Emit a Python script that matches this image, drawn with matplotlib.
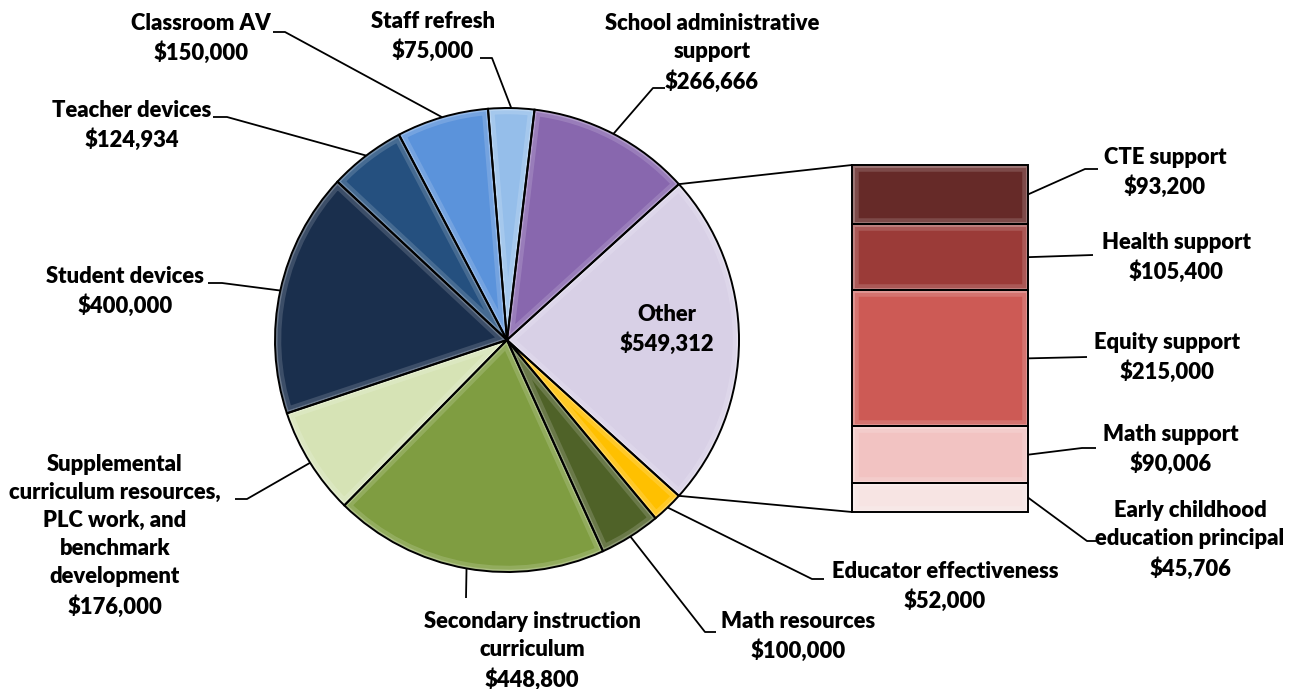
import matplotlib
matplotlib.use("Agg")
import matplotlib.pyplot as plt
import numpy as np
from matplotlib.patches import Wedge, Rectangle
from matplotlib.colors import to_rgb

# ---- data -------------------------------------------------------------
# pie slices, clockwise starting with the aggregated "Other" slice
pie_labels = [
    "Other",
    "Educator effectiveness",
    "Math resources",
    "Secondary instruction\ncurriculum",
    "Supplemental\ncurriculum resources,\nPLC work, and\nbenchmark\ndevelopment",
    "Student devices",
    "Teacher devices",
    "Classroom AV",
    "Staff refresh",
    "School administrative\nsupport",
]
pie_values = [None, 52000, 100000, 448800, 176000, 400000, 124934, 150000, 75000, 266666]
pie_colors = ["#D8D0E6", "#FFC000", "#4F6228", "#7F9D41", "#D6E3B5",
              "#1A2F4D", "#25507F", "#5B93DB", "#95BEEA", "#8867AE"]

# breakdown of "Other", top to bottom
bar_labels = ["CTE support", "Health support", "Equity support",
              "Math support", "Early childhood\neducation principal"]
bar_values = [93200, 105400, 215000, 90006, 45706]
bar_colors = ["#662A28", "#9B3B38", "#CD5A55", "#F2C3C2", "#F7E4E3"]

pie_values[0] = sum(bar_values)

# ---- layout (pixel space) --------------------------------------------
W, H = 1300, 689
PIE_C = (507, 340)
PIE_R = 232
BAR_X0, BAR_X1 = 852, 1028
BAR_TOP, BAR_BOT = 165, 512

FONT = dict(family="Lato", weight="heavy", size=15.8)
LS = 1.42

# label anchor: (centre x, centre y of first line, elbow x, elbow y, hook end x)
pie_label_pos = {
    "Other": (667, 315, None, None, None),
    "Educator effectiveness": (945, 572, 812, 579, 824),
    "Math resources": (798, 622, 705, 632, 716),
    "Secondary instruction\ncurriculum": (532, 622, 466, 598, 466),
    "Supplemental\ncurriculum resources,\nPLC work, and\nbenchmark\ndevelopment": (115, 463, 247, 499, 235),
    "Student devices": (125, 277, 222, 283, 208),
    "Teacher devices": (132, 111, 227, 117, 213),
    "Classroom AV": (201, 24, 285, 32, 273),
    "Staff refresh": (433, 22, 492, 58, 480),
    "School administrative\nsupport": (712, 24, 653, 88, 665),
}
bar_label_pos = [
    (1165, 158, 1085, 169, 1098),
    (1176, 243, 1093, 255, 1093),
    (1167, 343, 1087, 357, 1087),
    (1171, 435, 1082, 448, 1096),
    (1190, 511, 1087, 541, 1096),
]
PITCH = 29


def py(y):
    return H - y


def blend(c, t):
    r, g, b = to_rgb(c)
    return (r + (1 - r) * t, g + (1 - g) * t, b + (1 - b) * t)


def money(v):
    return "${:,.0f}".format(v)


fig = plt.figure(figsize=(13, 6.89), dpi=100)
ax = fig.add_axes([0, 0, 1, 1])

total = sum(pie_values)
start = 360.0 * pie_values[0] / total / 2.0
explode = [0.012] + [0] * (len(pie_values) - 1)
wedges, _ = ax.pie(pie_values, colors=pie_colors, startangle=start,
                   counterclock=False, explode=explode,
                   center=(PIE_C[0], py(PIE_C[1])), radius=PIE_R,
                   wedgeprops=dict(edgecolor="none", linewidth=0))

# bevel-style rims on every slice
RIMS = [(9, 0.18, 0.85), (3.5, 0.38, 0.9)]
for w, col in zip(wedges, pie_colors):
    for lw, t, a in RIMS:
        rim = Wedge(w.center, w.r, w.theta1, w.theta2, facecolor="none",
                    edgecolor=blend(col, t), linewidth=lw, alpha=a, zorder=2)
        ax.add_patch(rim)
        rim.set_clip_path(w)
    ax.add_patch(Wedge(w.center, w.r, w.theta1, w.theta2, facecolor="none",
                       edgecolor="black", linewidth=1.4, zorder=3))

# stacked bar for the "Other" breakdown
scale = (BAR_BOT - BAR_TOP) / sum(bar_values)
bar_cx = (BAR_X0 + BAR_X1) / 2
bar_w = BAR_X1 - BAR_X0
bottom = py(BAR_BOT)
seg_mid = []
for v, col in zip(bar_values[::-1], bar_colors[::-1]):
    h = v * scale
    rects = ax.bar(bar_cx, h, width=bar_w, bottom=bottom, color=col,
                   edgecolor="none", zorder=1)
    r = rects[0]
    for lw, t, a in RIMS:
        rim = Rectangle(r.get_xy(), r.get_width(), r.get_height(),
                        facecolor="none", edgecolor=blend(col, t),
                        linewidth=lw, alpha=a, zorder=2)
        ax.add_patch(rim)
        rim.set_clip_path(r)
    ax.add_patch(Rectangle(r.get_xy(), r.get_width(), r.get_height(),
                           facecolor="none", edgecolor="black",
                           linewidth=1.4, zorder=3))
    seg_mid.append(bottom + h / 2)
    bottom += h
seg_mid = seg_mid[::-1]

# connectors from the "Other" slice to the bar
ow = wedges[0]
for ang, yb in [(ow.theta2, py(BAR_TOP)), (ow.theta1, py(BAR_BOT))]:
    a = np.deg2rad(ang)
    x0 = ow.center[0] + ow.r * np.cos(a)
    y0 = ow.center[1] + ow.r * np.sin(a)
    ax.plot([x0, BAR_X0], [y0, yb], color="black", lw=1.3, zorder=4)

# slice labels and leader lines
for w, lab, v in zip(wedges, pie_labels, pie_values):
    tx, ty, ex, ey, hx = pie_label_pos[lab]
    text = lab + "\n" + money(v)
    n = text.count("\n") + 1
    cy = ty + (n - 1) * PITCH / 2
    ax.text(tx, py(cy), text, ha="center", va="center", linespacing=LS,
            zorder=5, **FONT)
    if ex is None:
        continue
    a = np.deg2rad((w.theta1 + w.theta2) / 2)
    x0 = w.center[0] + w.r * np.cos(a)
    y0 = w.center[1] + w.r * np.sin(a)
    ax.plot([x0, ex, hx], [y0, py(ey), py(ey)], color="black", lw=1.3,
            zorder=4, solid_capstyle="butt")

# bar labels and leader lines
for lab, v, ym, (tx, ty, ex, ey, hx) in zip(bar_labels, bar_values, seg_mid,
                                             bar_label_pos):
    text = lab + "\n" + money(v)
    n = text.count("\n") + 1
    cy = ty + (n - 1) * PITCH / 2
    ax.text(tx, py(cy), text, ha="center", va="center", linespacing=LS,
            zorder=5, **FONT)
    ax.plot([BAR_X1, ex, hx], [ym, py(ey), py(ey)], color="black", lw=1.3,
            zorder=4, solid_capstyle="butt")

ax.set_xlim(0, W)
ax.set_ylim(0, H)
ax.set_aspect("equal")
ax.axis("off")

fig.savefig("out.png", dpi=100, facecolor="white")
